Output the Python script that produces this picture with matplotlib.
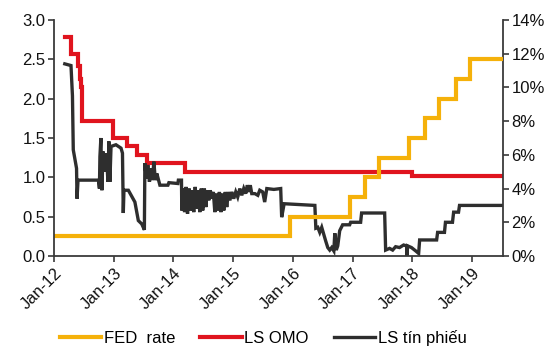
import matplotlib
matplotlib.use("Agg")
import matplotlib.pyplot as plt
from matplotlib.ticker import FuncFormatter, MultipleLocator
import pandas as pd

plt.rcParams['font.family'] = ['Liberation Sans', 'DejaVu Sans']

# FED rate (left axis, %)
fed_dates = ["2012-01-01", "2015-12-16", "2016-12-14", "2017-03-15", "2017-06-14",
             "2017-12-13", "2018-03-21", "2018-06-13", "2018-09-26", "2018-12-19", "2019-07-07"]
fed_values = [0.25, 0.50, 0.75, 1.00, 1.25, 1.50, 1.75, 2.00, 2.25, 2.50, 2.50]

# LS OMO (right axis, %)
omo_dates = ["2012-03-07", "2012-04-14", "2012-05-27", "2012-06-06", "2012-06-13", "2012-06-23",
             "2012-12-28", "2013-03-25", "2013-05-23", "2013-07-23", "2014-03-10", "2018-01-02",
             "2019-07-07"]
omo_values = [13.0, 12.0, 11.3, 10.5, 10.0, 8.0, 7.0, 6.5, 6.0, 5.5, 5.0, 4.75, 4.75]

# LS tin phieu (right axis, %)
bill_dates = [
    "2012-03-07", "2012-04-14", "2012-04-23", "2012-04-28", "2012-05-09", "2012-05-18", "2012-05-21",
    "2012-05-27", "2012-09-29", "2012-10-05", "2012-10-08", "2012-10-14", "2012-10-20", "2012-10-27",
    "2012-11-08", "2012-11-17", "2012-11-26", "2012-12-02", "2012-12-08", "2012-12-15", "2013-01-14",
    "2013-02-14", "2013-02-23", "2013-02-28", "2013-03-04", "2013-03-31", "2013-05-10", "2013-05-31",
    "2013-06-21", "2013-07-07", "2013-07-10", "2013-07-19", "2013-07-28", "2013-08-07", "2013-08-16",
    "2013-08-25", "2013-09-03", "2013-09-12", "2013-09-21", "2013-10-10", "2013-11-28", "2013-12-04",
    "2014-01-28", "2014-01-31", "2014-02-19", "2014-02-21", "2014-02-27", "2014-03-10", "2014-03-19",
    "2014-03-28", "2014-04-07", "2014-04-16", "2014-04-25", "2014-05-05", "2014-05-14", "2014-05-23",
    "2014-06-02", "2014-06-11", "2014-06-20", "2014-06-29", "2014-07-09", "2014-07-18", "2014-07-27",
    "2014-08-05", "2014-08-14", "2014-08-23", "2014-09-02", "2014-09-11", "2014-09-20", "2014-09-29",
    "2014-10-09", "2014-10-18", "2014-10-27", "2014-11-05", "2014-11-14", "2014-11-23", "2014-12-03",
    "2014-12-12", "2014-12-24", "2015-01-05", "2015-01-17", "2015-01-29", "2015-02-11", "2015-02-23",
    "2015-03-07", "2015-03-19", "2015-03-29", "2015-04-07", "2015-04-16", "2015-04-25", "2015-05-14",
    "2015-06-01", "2015-06-13", "2015-07-01", "2015-07-13", "2015-07-26", "2015-09-07", "2015-10-19",
    "2015-10-25", "2015-11-09", "2016-05-15", "2016-05-21", "2016-06-02", "2016-06-14", "2016-06-26",
    "2016-07-08", "2016-07-20", "2016-08-02", "2016-08-14", "2016-08-26", "2016-09-08", "2016-09-14",
    "2016-09-23", "2016-10-02", "2016-10-14", "2016-11-01", "2016-12-14", "2016-12-20", "2017-02-19",
    "2017-02-25", "2017-07-16", "2017-07-22", "2017-08-15", "2017-09-03", "2017-09-21", "2017-10-15",
    "2017-11-09", "2017-11-27", "2017-11-30", "2017-12-03", "2017-12-27", "2018-01-22", "2018-02-09",
    "2018-02-15", "2018-05-30", "2018-06-05", "2018-07-17", "2018-07-23", "2018-09-04", "2018-09-11",
    "2018-10-11", "2018-10-17", "2019-07-07"]
bill_values = [
    11.4, 11.3, 9.5, 6.3, 5.7, 5.2, 3.4,
    4.5, 4.5, 4.0, 5.9, 7.0, 3.9, 6.2,
    5.0, 6.1, 4.4, 6.8, 4.4, 6.5, 6.6,
    6.4, 6.1, 2.55, 3.9, 3.9, 3.2, 2.1,
    1.9, 1.55, 5.5, 4.6, 5.4, 4.4, 5.2,
    4.5, 5.6, 4.5, 4.9, 4.2, 4.2, 4.35,
    4.3, 4.5, 4.5, 2.7, 4.0, 2.6, 4.1,
    2.5, 4.0, 2.7, 3.9, 2.6, 4.1, 2.8,
    3.9, 2.6, 4.0, 2.7, 4.0, 2.9, 3.9,
    3.3, 3.9, 3.4, 3.8, 2.6, 3.7, 2.7,
    3.8, 2.6, 3.7, 2.7, 3.8, 2.9, 3.8,
    3.3, 3.8, 3.4, 3.8, 3.5, 4.0, 3.6,
    4.0, 3.7, 4.2, 3.8, 4.2, 3.7, 3.7,
    3.6, 3.9, 3.8, 3.2, 4.0, 3.95, 4.0,
    2.3, 3.1, 3.0, 1.65, 1.7, 1.4, 1.7,
    1.3, 0.9, 0.5, 0.35, 0.5, 0.3, 1.35,
    0.35, 0.6, 1.5, 1.85, 1.85, 2.0, 2.0,
    2.55, 2.55, 0.35, 0.45, 0.35, 0.55, 0.5,
    0.65, 0.6, 0.0, 0.6, 0.5, 0.3, 0.15,
    0.95, 0.95, 1.4, 1.4, 2.0, 2.0, 2.6,
    2.6, 3.0, 3.0]

x_ticks = ["2012-01-01", "2013-01-01", "2014-01-01", "2015-01-01", "2016-01-01",
           "2017-01-01", "2018-01-01", "2019-01-01"]
x_tick_labels = ["Jan-12", "Jan-13", "Jan-14", "Jan-15", "Jan-16", "Jan-17", "Jan-18", "Jan-19"]

YELLOW = "#F5B10A"
RED = "#E0141E"
BLACK = "#2E2E2E"
SPINE = "#3A3A3A"

fig = plt.figure(figsize=(5.6, 3.58), dpi=100)
ax = fig.add_axes([0.0964, 0.285, 0.8018, 0.659])
ax2 = ax.twinx()

ax2.plot(pd.to_datetime(omo_dates), omo_values, color=RED, lw=3.0,
         drawstyle="steps-post", solid_joinstyle="miter", label="LS OMO")
ax2.plot(pd.to_datetime(bill_dates), bill_values, color=BLACK, lw=2.4,
         solid_joinstyle="miter", label="LS tín phiếu")
ax.plot(pd.to_datetime(fed_dates), fed_values, color=YELLOW, lw=3.0,
        drawstyle="steps-post", solid_joinstyle="miter", label="FED  rate")

ax.set_zorder(ax2.get_zorder() + 1)
ax.patch.set_visible(False)

ax.set_xlim(pd.Timestamp("2012-01-01"), pd.Timestamp("2019-07-10"))
ax.set_ylim(0, 3.0)
ax2.set_ylim(0, 14)
ax.yaxis.set_major_locator(MultipleLocator(0.5))
ax.yaxis.set_major_formatter(FuncFormatter(lambda v, p: f"{v:.1f}"))
ax2.yaxis.set_major_locator(MultipleLocator(2))
ax2.yaxis.set_major_formatter(FuncFormatter(lambda v, p: f"{v:.0f}%"))

ax.set_xticks(pd.to_datetime(x_ticks))
ax.set_xticklabels(x_tick_labels, rotation=45, ha="right", rotation_mode="anchor")

for a in (ax, ax2):
    a.spines["top"].set_visible(False)
    for s in ("left", "right", "bottom"):
        a.spines[s].set_color(SPINE)
        a.spines[s].set_linewidth(1.3)
    a.tick_params(axis="both", colors=SPINE, labelcolor="#111111", labelsize=12,
                  length=4, width=1.2, direction="out")
ax.spines["right"].set_visible(False)
ax2.spines["left"].set_visible(False)
ax2.spines["bottom"].set_visible(False)
ax.tick_params(axis="x", pad=3)
ax.tick_params(axis="y", pad=2)
ax2.tick_params(axis="y", pad=2)

h1, l1 = ax.get_legend_handles_labels()
h2, l2 = ax2.get_legend_handles_labels()
fig.legend(h1 + h2, l1 + l2, loc="center", bbox_to_anchor=(0.47, 0.055), ncol=3,
           frameon=False, fontsize=12, handlelength=2.5, handletextpad=0.15,
           columnspacing=1.5)

fig.savefig("out.png", dpi=100)
